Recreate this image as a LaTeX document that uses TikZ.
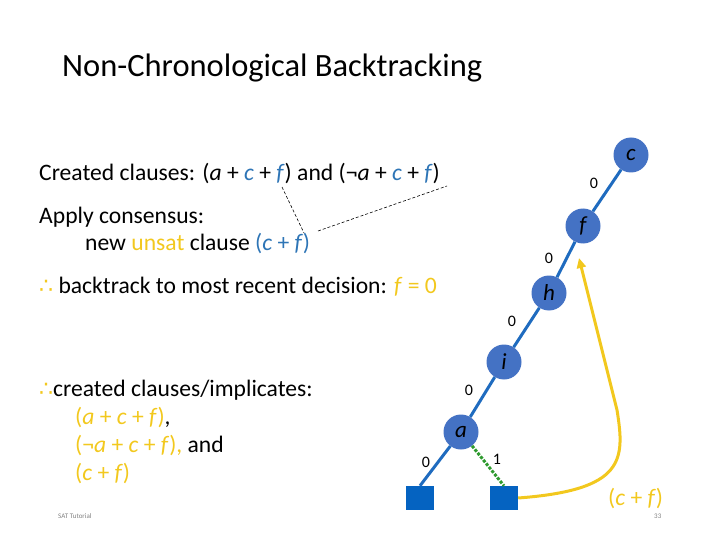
\documentclass[tikz,border=0pt]{standalone}
\usepackage{fontspec}
\setmainfont{Carlito}
\newfontfamily\djv{DejaVu Sans}
\usetikzlibrary{arrows.meta}
\definecolor{cblue}{HTML}{2E75B6}
\definecolor{cyel}{HTML}{F2C81E}
\definecolor{nfill}{HTML}{4472C4}
\definecolor{eblue}{HTML}{1F6BBF}
\definecolor{sqblue}{HTML}{0563C1}
\definecolor{egreen}{HTML}{2E9A2E}
\newcommand{\tf}{\djv\fontsize{22}{24}\selectfont\textcolor{cyel}{∴}}
\begin{document}
\begin{tikzpicture}[x=1pt,y=-1pt,
  txt/.style={anchor=base west,inner sep=0pt,font=\fontsize{23.6}{28}\selectfont},
  var/.style={circle,fill=nfill,minimum size=35pt,inner sep=0pt,font=\fontsize{23}{26}\selectfont\itshape},
  leaf/.style={rectangle,fill=sqblue,minimum width=28pt,minimum height=24pt,inner sep=0pt},
  edge/.style={eblue,line width=3pt},
  elab/.style={font=\fontsize{16}{18}\selectfont,inner sep=0pt},
  dsh/.style={dashed,line width=0.6pt,dash pattern=on 3pt off 2pt}]
\useasboundingbox (0,0) rectangle (720,540);
\node[txt,font=\fontsize{32.5}{36}\selectfont] (title) at (62,77) {Non-Chronological Backtracking};
\node[txt] (t1) at (39,181) {Created clauses: (\textit{a} + \textcolor{cblue}{\textit{c}} + \textcolor{cblue}{\textit{f}}) and (¬\textit{a} + \textcolor{cblue}{\textit{c}} + \textcolor{cblue}{\textit{f}})};
\node[txt] (t2) at (39,224) {Apply consensus:};
\node[txt] (t3) at (85,250) {new \textcolor{cyel}{unsat} clause \textcolor{cblue}{(\textit{c} + \textit{f})}};
\node[txt] (t4) at (39,293) {{\tf} backtrack to most recent decision: \textcolor{cyel}{\textit{f} = 0}};
\node[txt] (t5) at (39,396) {{\tf}created clauses/implicates:};
\node[txt] (t6) at (75,424) {\textcolor{cyel}{(\textit{a} + \textit{c} + \textit{f})},};
\node[txt] (t7) at (75,452) {\textcolor{cyel}{(¬\textit{a} + \textit{c} + \textit{f}),} and};
\node[txt] (t8) at (75,480) {\textcolor{cyel}{(\textit{c} + \textit{f})}};
\node[txt,font=\fontsize{7}{8}\selectfont,text=gray] (st) at (58,518) {SAT Tutorial};
\node[txt,font=\fontsize{7}{8}\selectfont,text=gray] (pg) at (654,518) {33};
\node[txt,text=cyel] (cf) at (608,505) {(\textit{c} + \textit{f})};
\coordinate (d1a) at (282,187); \coordinate (d1b) at (304,233);
\coordinate (d2a) at (318,231); \coordinate (d2b) at (447,186);
\draw[dsh] (d1a) -- (d1b);
\draw[dsh] (d2a) -- (d2b);
\node[var] (c) at (631,155) {c};
\node[var] (f) at (583,226) {f};
\node[var] (h) at (549,293) {h};
\node[var] (i) at (504,362) {i};
\node[var] (a) at (461,432) {a};
\node[leaf] (l0) at (420,498) {};
\node[leaf] (l1) at (504,498) {};
\draw[edge] (c) -- (f);
\draw[edge] (f) -- (h);
\draw[edge] (h) -- (i);
\draw[edge] (i) -- (a);
\draw[edge] (a) -- (l0.north);
\draw[egreen,line width=3pt,dash pattern=on 3pt off 1.5pt] (a) -- (l1.north);
\node[elab] (e1) at (594,183) {0};
\node[elab] (e2) at (549,258) {0};
\node[elab] (e3) at (512,321) {0};
\node[elab] (e4) at (469,390) {0};
\node[elab] (e5) at (426,462) {0};
\node[elab] (e6) at (497,459) {1};
\draw[cyel,line width=3pt,-{Triangle[length=10pt,width=9pt]}] (l1.east) .. controls (625,490) and (625,460) .. (617,410) -- (579,258);
\end{tikzpicture}
\end{document}
